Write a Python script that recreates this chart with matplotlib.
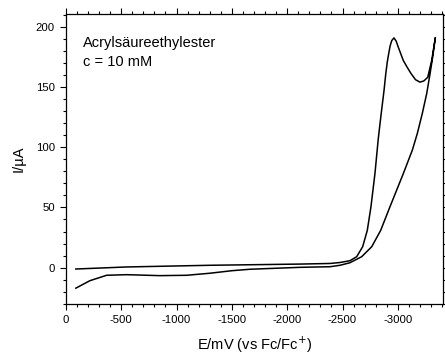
import matplotlib
matplotlib.use("Agg")
import matplotlib.pyplot as plt
from matplotlib.ticker import MultipleLocator

plt.rcParams['font.family'] = ['Liberation Sans', 'DejaVu Sans']
plt.rcParams['axes.unicode_minus'] = False

# Potential (mV vs Fc/Fc+) und Strom (uA), abgelesen
# unterer Ast bis zum Umkehrpunkt
E_fwd = [-90, -217, -368, -549, -850, -1091, -1302, -1500, -1663, -2115, -2387,
         -2477, -2567, -2673, -2764, -2845, -2929, -3049, -3131, -3176, -3221,
         -3261, -3291, -3315, -3339]
I_fwd = [-17, -10.8, -6.3, -5.8, -6.6, -6.3, -4.6, -2.5, -1.3, 0.3, 0.8,
         2.0, 4.1, 9.1, 17.4, 31, 50.6, 78, 97.6, 111.4, 128,
         144.6, 161, 175, 191]
# Rueckweg: Peak und oberer Ast
E_rev = [-3339, -3306, -3270, -3235, -3200, -3160, -3120, -3080, -3049, -3004,
         -2985, -2965, -2945, -2930, -2918, -2905, -2891, -2875, -2857, -2839,
         -2822, -2793, -2757, -2724, -2682, -2628, -2567, -2477, -2387, -2115,
         -1302, -549, -90]
I_rev = [191, 172, 158, 155, 154, 156, 161, 167, 172, 183,
         188, 190.7, 188.5, 184, 178, 171, 161, 147, 133.5, 119.7,
         106, 78, 50.6, 31, 17.4, 9.1, 5.8, 4.3, 3.5, 3,
         2, 0.6, -1.1]

E = E_fwd + E_rev[1:]
I = I_fwd + I_rev[1:]

fig = plt.figure(figsize=(4.45, 3.6), dpi=100)
ax = fig.add_axes([0.148, 0.156, 0.848, 0.805])

ax.plot(E, I, color='black', lw=1.1)

ax.set_xlim(0, -3410)
ax.set_ylim(-30, 210.5)
ax.xaxis.set_major_locator(MultipleLocator(500))
ax.xaxis.set_minor_locator(MultipleLocator(100))
ax.yaxis.set_major_locator(MultipleLocator(50))
ax.yaxis.set_minor_locator(MultipleLocator(10))
ax.tick_params(which='both', direction='out', top=True, right=True,
               labelsize=8.2, width=0.8)
ax.tick_params(which='major', length=4.5)
ax.tick_params(which='minor', length=2.5)
for s in ax.spines.values():
    s.set_linewidth(0.9)

ax.set_xlabel('E/mV (vs Fc/Fc$^{+}$)', fontsize=10.5, labelpad=7)
ax.set_ylabel('I/\u00b5A', fontsize=10.5, labelpad=7)

ax.text(0.045, 0.925, 'Acrylsäureethylester\nc = 10 mM', transform=ax.transAxes,
        fontsize=10.5, va='top', ha='left', linespacing=1.45)

fig.savefig('out.png', dpi=100)
